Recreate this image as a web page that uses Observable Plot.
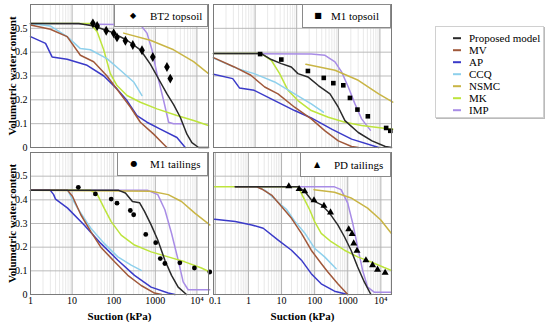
<!DOCTYPE html>
<html><head><meta charset="utf-8">
<script src="https://cdn.jsdelivr.net/npm/d3@7"></script>
<script src="https://cdn.jsdelivr.net/npm/@observablehq/plot@0.6"></script>
<style>
body{margin:0;background:#fff;}
#chart{position:relative;width:550px;height:322px;overflow:hidden;font-family:"Liberation Serif","Times New Roman",Times,"DejaVu Serif",serif;color:#000;}
#chart svg{position:absolute;overflow:visible;}
#chart svg text{font-family:"Liberation Serif","Times New Roman",Times,"DejaVu Serif",serif;}
svg g[aria-label$="axis label"]{font-weight:bold;font-size:11px;}
.box{position:absolute;background:#fff;border:1px solid #8a8a8a;box-sizing:border-box;}
.box .sym{position:absolute;font-family:"DejaVu Sans";font-size:8px;line-height:8px;transform:translate(-50%,-50%);}
.box .lab{position:absolute;font-size:11px;line-height:11px;transform:translateY(-50%);white-space:nowrap;}
.leg{box-shadow:1px 1px 0 #bbb;}
.leg .sw{position:absolute;height:1.6px;width:8px;transform:translateY(-50%);}
</style></head>
<body><div id="chart"></div>
<script>
// ---------- data: [suction (kPa), volumetric water content] ----------
const models = ["Proposed model","MV","AP","CCQ","NSMC","MK","IMP"];
const modelColors = ["#2a2a2a","#a0583a","#3a3ac8","#8ed0ec","#c9b545","#bde43c","#a88ce6"];
const drawOrder = ["IMP","MK","NSMC","CCQ","AP","MV","Proposed model"];
const panelNames = ["BT2 topsoil","M1 topsoil","M1 tailings","PD tailings"];
const yTicks = [0,0.1,0.2,0.3,0.4,0.5];
const xTicksA = [1,10,100,1000,10000];
const xTickLabelsA = ["1","10","100","1000","10⁴"];
const xTicksB = [0.1,1,10,100,1000,10000];
const xTickLabelsB = ["0.1","1","10","100","1000","10⁴"];

// BT2 topsoil
const bt2Proposed = [[1,.52],[14.5,.52],[33,.51],[83,.486],[209,.45],[437,.41],[759,.35],[1096,.30],[1905,.225],[2754,.18],[3981,.127],[5754,.056],[7586,.02],[10965,0],[19000,0]];
const bt2MV = [[1,.514],[3,.496],[7.6,.465],[15.8,.387],[33,.36],[69,.30],[145,.225],[251,.17],[437,.106],[912,.056],[1585,.014],[1905,0]];
const bt2AP = [[1,.465],[2.3,.437],[3.3,.38],[7.6,.37],[23,.345],[58,.30],[120,.246],[209,.197],[363,.134],[631,.106],[1318,.077],[3311,.042],[5248,0]];
const bt2CCQ = [[1,.52],[3,.51],[7.6,.465],[15.8,.415],[27.5,.41],[69,.373],[145,.324],[302,.275],[479,.218]];
const bt2NSMC = [[174,.48],[759,.45],[2754,.41],[8318,.36],[19000,.31]];
const bt2MK = [[1,.52],[27.5,.52],[40,.486],[57.5,.41],[83,.31],[120,.26],[209,.218],[437,.19],[1096,.162],[3311,.134],[8318,.113],[19000,.092]];
const bt2IMP = [[1,.52],[437,.515],[631,.48],[832,.41],[1096,.31],[1585,.197],[2089,.106],[2754,.10],[4365,.10]];
const bt2Obs = [[31.6,.521],[40,.51],[66,.49],[100,.479],[120,.462],[191,.448],[288,.43],[479,.408],[871,.38],[1905,.338],[2291,.289]];

// M1 topsoil
const m1tProposed = [[1,.394],[14.1,.394],[24.5,.369],[42.7,.352],[74,.338],[107,.31],[186,.296],[331,.26],[631,.225],[1000,.169],[1445,.113],[3020,.063],[6457,.028],[13490,.004],[19000,0]];
const m1tMV = [[1,.377],[3.16,.338],[7.9,.303],[17,.254],[35.5,.225],[89,.169],[224,.12],[479,.07],[1000,.028],[2089,.004],[3020,0]];
const m1tAP = [[1,.307],[2.9,.289],[4.2,.25],[9.5,.24],[29.5,.197],[89,.155],[224,.124],[692,.077],[2089,.035],[9333,0]];
const m1tCCQ = [[1,.375],[3.8,.331],[9.5,.31],[29.5,.275],[89,.225],[224,.183],[437,.148]];
const m1tNSMC = [[166,.349],[832,.324],[3020,.282],[9333,.225],[20400,.19]];
const m1tMK = [[1,.394],[14.1,.394],[24.5,.366],[38.9,.31],[61.7,.24],[107,.197],[224,.155],[575,.127],[1445,.106],[3631,.092],[11220,.082],[20400,.077]];
const m1tIMP = [[1,.394],[224,.392],[479,.387],[832,.359],[1202,.317],[1738,.254],[2512,.183],[3631,.12],[5888,.073]];
const m1tObs = [[13.2,.392],[42.7,.369],[186,.321],[447,.292],[759,.27],[1318,.261],[1905,.208],[2884,.159],[5129,.131],[14125,.082],[17783,.07]];

// M1 tailings
const m1lProposed = [[1,.44],[132,.44],[191,.429],[282,.393],[417,.388],[550,.351],[794,.294],[1148,.23],[1698,.145],[2455,.081],[3548,.031],[5623,0]];
const m1lMV = [[1,.44],[7.8,.44],[10.2,.415],[16.2,.337],[28.2,.266],[49,.2],[105,.138],[219,.081],[457,.038],[955,.006],[1413,0]];
const m1lAP = [[1,.44],[3,.44],[3.6,.422],[4,.403],[7.8,.365],[19.5,.294],[49,.216],[126,.145],[316,.081],[794,.031],[2042,.006],[2951,0]];
const m1lCCQ = [[1,.44],[7.8,.44],[13.5,.365],[28.2,.28],[58.9,.216],[126,.159],[263,.124],[457,.102]];
const m1lNSMC = [[1,.44],[794,.436],[2042,.422],[4266,.393],[8913,.344],[20400,.294]];
const m1lMK = [[1,.44],[28.2,.44],[40.7,.422],[58.9,.365],[87,.308],[151,.251],[316,.209],[794,.18],[2042,.159],[5129,.138],[12882,.112],[20400,.095]];
const m1lIMP = [[1,.44],[661,.44],[1148,.422],[1698,.358],[2455,.259],[3548,.145],[4677,.053],[6166,.02],[20400,.02]];
const m1lObs = [[14.1,.453],[36.3,.425],[87,.403],[120,.386],[251,.355],[302,.337],[589,.254],[1023,.219],[1318,.152],[1698,.131],[3890,.134],[8710,.112],[20400,.095]];

// PD tailings
const pdProposed = [[0.4,.455],[31.6,.455],[50,.436],[79,.40],[158,.38],[282,.344],[501,.294],[794,.244],[1259,.187],[1995,.116],[3162,.053],[5012,0]];
const pdMV = [[0.4,.455],[1.78,.455],[2.5,.446],[5,.42],[10,.372],[20,.322],[40,.258],[79,.187],[158,.131],[251,.095],[501,.045],[1000,0]];
const pdAP = [[0.095,.318],[0.4,.308],[1.26,.294],[2.8,.28],[7.9,.23],[20,.187],[40,.145],[79,.088],[158,.045],[398,.014],[1000,0]];
const pdCCQ = [[0.4,.455],[1.78,.455],[3.2,.44],[7.9,.39],[14,.36],[25,.31],[50,.26],[100,.195],[200,.159],[447,.109]];
const pdNSMC = [[95.5,.443],[398,.432],[1259,.408],[3981,.365],[10000,.315],[20900,.258]];
const pdMK = [[0.095,.455],[31.6,.455],[50,.40],[70.8,.358],[100,.308],[158,.258],[316,.223],[794,.187],[1995,.159],[5012,.138],[12589,.114],[20900,.102]];
const pdIMP = [[0.4,.455],[398,.455],[631,.443],[1000,.386],[1413,.301],[1995,.2],[2818,.102],[3981,.031],[6310,.01],[20900,.01]];
const pdObs = [[16.6,.457],[33.9,.446],[50,.436],[95.5,.398],[191,.375],[302,.347],[1072,.276],[1349,.256],[1514,.216],[1905,.185],[3548,.145],[5623,.124],[7943,.105],[13490,.092]];

// ---------- build ----------
const root = document.getElementById("chart");
const serif = '"Liberation Serif","Times New Roman",Times,"DejaVu Serif",serif';
function rowsOf(c){
  const r=[]; for(const m of drawOrder) for(const [s,t] of c[m]) r.push({model:m,s,t}); return r;
}
function gridX(dom){
  const minor=[],major=[];
  for(let e=-2;e<=5;e++) for(let d=1;d<=9;d++){
    const v=d*Math.pow(10,e); if(v<dom[0]||v>dom[1]) continue;
    (d===1?major:minor).push(v);
  }
  return {minor,major};
}
function panel(o){
  const g=gridX(o.xDomain);
  const svg=Plot.plot({
    width:o.w,height:o.h,marginLeft:o.ml,marginRight:o.mr,marginTop:o.mt,marginBottom:o.mb,
    style:{fontFamily:serif,fontSize:"10px",background:"transparent",color:"#000"},
    x:Object.assign({type:"log",domain:o.xDomain},o.xAxis?{ticks:o.xAxis.ticks,tickFormat:(d)=>o.xAxis.labels[o.xAxis.ticks.indexOf(d)],tickSize:0,tickPadding:2,label:"Suction (kPa)",labelAnchor:"center",labelOffset:25,labelArrow:"none"}:{axis:null}),
    y:Object.assign({domain:[0,0.6]},o.yAxis?{ticks:yTicks,tickFormat:d=>String(d),tickSize:0,tickPadding:3,label:"Volumetric water content",labelAnchor:"center",labelOffset:22,labelArrow:"none"}:{axis:null}),
    color:{domain:models,range:modelColors},
    marks:[
      Plot.ruleX(g.minor,{stroke:"#e3e3e3",strokeWidth:0.8}),
      Plot.ruleX(g.major,{stroke:"#a9a9a9",strokeWidth:0.9}),
      Plot.ruleY(yTicks,{stroke:"#b3b3b3",strokeWidth:0.9}),
      Plot.line(rowsOf(o.curves),{x:"s",y:"t",z:"model",stroke:"model",strokeWidth:1.5}),
      Plot.dot(o.obs,{x:d=>d[0],y:d=>d[1],symbol:o.symbol,fill:"#000",stroke:"none",r:o.r}),
      Plot.frame({stroke:"#7a7a7a",strokeWidth:1})
    ]
  });
  svg.style.left=o.left+"px"; svg.style.top=o.top+"px";
  root.appendChild(svg);
}
const domA=[1,19000], domB=[0.088,21000];
panel({left:0,top:0,w:210,h:150,ml:30,mr:2,mt:4,mb:3,xDomain:domA,yAxis:true,symbol:"diamond",r:3,
  curves:{"Proposed model":bt2Proposed,MV:bt2MV,AP:bt2AP,CCQ:bt2CCQ,NSMC:bt2NSMC,MK:bt2MK,IMP:bt2IMP},obs:bt2Obs});
panel({left:210,top:0,w:185,h:150,ml:3,mr:4,mt:4,mb:3,xDomain:domA,symbol:"square",r:2.6,
  curves:{"Proposed model":m1tProposed,MV:m1tMV,AP:m1tAP,CCQ:m1tCCQ,NSMC:m1tNSMC,MK:m1tMK,IMP:m1tIMP},obs:m1tObs});
panel({left:0,top:150,w:210,h:172,ml:30,mr:2,mt:2,mb:28,xDomain:domA,yAxis:true,xAxis:{ticks:xTicksA,labels:xTickLabelsA},symbol:"circle",r:2.4,
  curves:{"Proposed model":m1lProposed,MV:m1lMV,AP:m1lAP,CCQ:m1lCCQ,NSMC:m1lNSMC,MK:m1lMK,IMP:m1lIMP},obs:m1lObs});
panel({left:210,top:150,w:185,h:172,ml:3,mr:4,mt:2,mb:28,xDomain:domB,xAxis:{ticks:xTicksB,labels:xTickLabelsB},symbol:"triangle",r:2.6,
  curves:{"Proposed model":pdProposed,MV:pdMV,AP:pdAP,CCQ:pdCCQ,NSMC:pdNSMC,MK:pdMK,IMP:pdIMP},obs:pdObs});

// in-panel legend boxes
const boxes=[
  {x:114,y:4,w:94,h:23,sym:"◆",sx:18,tx:35,name:panelNames[0]},
  {x:302,y:4,w:89,h:24,sym:"■",sx:15,tx:28,name:panelNames[1]},
  {x:117,y:152,w:91,h:24,sym:"●",sx:16,tx:32,name:panelNames[2]},
  {x:300,y:152,w:91,h:25,sym:"▲",sx:16,tx:33,name:panelNames[3]}
];
for(const b of boxes){
  const d=document.createElement("div"); d.className="box";
  Object.assign(d.style,{left:b.x+"px",top:b.y+"px",width:b.w+"px",height:b.h+"px"});
  d.innerHTML=`<span class="sym" style="left:${b.sx}px;top:${b.h/2-1}px">${b.sym}</span><span class="lab" style="left:${b.tx}px;top:${b.h/2-1}px">${b.name}</span>`;
  root.appendChild(d);
}
// model legend
const leg=document.createElement("div"); leg.className="box leg";
Object.assign(leg.style,{left:"435px",top:"26px",width:"109px",height:"92px",borderColor:"#d0d0d0"});
leg.innerHTML=models.map((m,i)=>`<span class="sw" style="left:17px;top:${11+12*i}px;background:${modelColors[i]}"></span><span class="lab" style="left:33px;top:${11+12*i}px">${m}</span>`).join("");
root.appendChild(leg);
</script></body></html>
